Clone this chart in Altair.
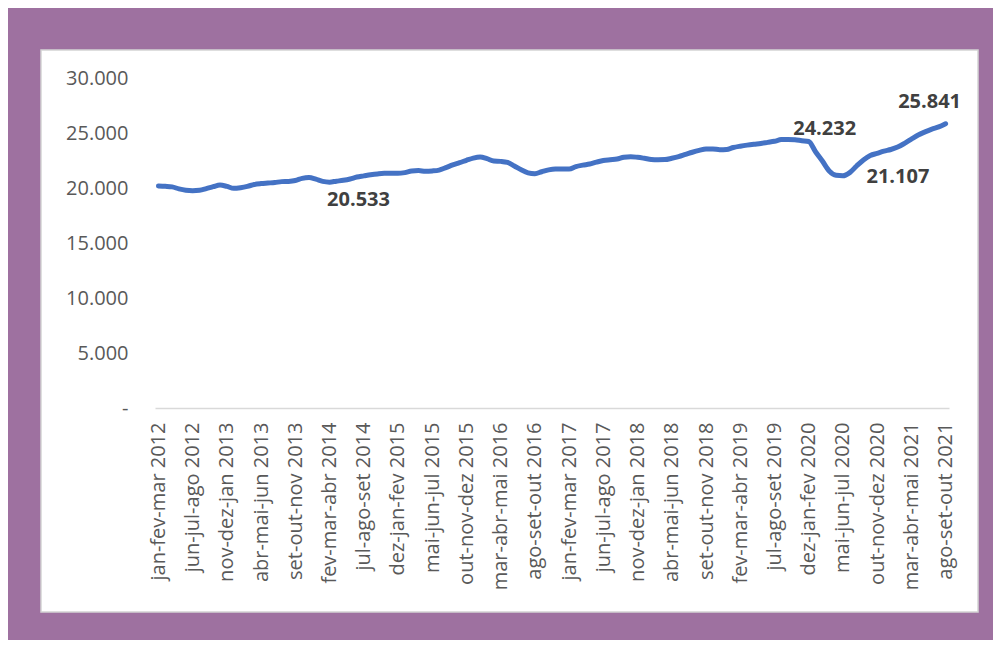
import altair as alt
import pandas as pd

MONTHS = ["jan", "fev", "mar", "abr", "mai", "jun", "jul", "ago", "set", "out", "nov", "dez"]
START_YEAR = 2012
START_MONTH = 2  # first moving quarter ends in March 2012

# Ocupados (mil pessoas), trimestres móveis
values = [
    20180, 20150, 20100, 19920, 19800, 19760, 19800, 19950, 20120, 20270,
    20150, 19970, 20030, 20150, 20320, 20400, 20450, 20500, 20580, 20600,
    20680, 20880, 20950, 20800, 20600, 20533, 20620, 20700, 20820, 21000,
    21100, 21200, 21280, 21330, 21330, 21330, 21400, 21550, 21580, 21520,
    21550, 21630, 21850, 22100, 22300, 22520, 22720, 22820, 22670, 22450,
    22420, 22320, 22000, 21650, 21380, 21300, 21480, 21650, 21730, 21720,
    21720, 21950, 22080, 22180, 22350, 22500, 22570, 22630, 22800, 22850,
    22790, 22700, 22600, 22570, 22580, 22700, 22850, 23050, 23250, 23420,
    23550, 23550, 23480, 23500, 23680, 23800, 23900, 23980, 24050, 24150,
    24250, 24400, 24420, 24380, 24300, 24232, 23300, 22450, 21550, 21150,
    21107, 21400, 22000, 22550, 22950, 23150, 23350, 23500, 23720, 24060,
    24450, 24820, 25100, 25350, 25550, 25841,
]

categories = []
for i in range(len(values)):
    m = START_MONTH + i
    yr = START_YEAR + m // 12
    e = m % 12
    categories.append(f"{MONTHS[(e - 2) % 12]}-{MONTHS[(e - 1) % 12]}-{MONTHS[e]} {yr}")

tick_labels = categories[::5]
y_ticks = [0, 5000, 10000, 15000, 20000, 25000, 30000]

labelled = ["fev-mar-abr 2014", "dez-jan-fev 2020", "mai-jun-jul 2020", "ago-set-out 2021"]
label_offsets = [(29, 18), (16, -12), (55, 1), (-16, -22)]

df = pd.DataFrame({
    "periodo": categories,
    "valor": values,
    "texto": [f"{v / 1000:.3f}" for v in values],
})

FONT = "Open Sans"
W, H = 794, 330

x_enc = alt.X(
    "periodo:N",
    sort=categories,
    scale=alt.Scale(type="point", padding=0.5),
    axis=alt.Axis(
        values=tick_labels, labelAngle=-90, labelFontSize=20, labelColor="#595959",
        labelFont=FONT, ticks=False, domainColor="#d9d9d9", domainWidth=1.5,
        labelPadding=14, title=None, grid=False, zindex=1, labelOverlap=False,
        labelLimit=400,
    ),
)
y_enc = alt.Y(
    "valor:Q",
    scale=alt.Scale(domain=[0, 30000], nice=False, zero=True),
    axis=alt.Axis(
        values=y_ticks,
        labelExpr="datum.value == 0 ? '-\u00a0\u00a0' : replace(format(datum.value, ','), ',', '.')",
        domain=False, ticks=False, grid=False, labelPadding=27, labelFontSize=20,
        labelColor="#595959", labelFont=FONT, title=None, zindex=1,
    ),
)

panel = alt.Chart(alt.Data(values=[{}])).mark_rect(
    fill="white", stroke="#d4d4d4", strokeWidth=1.5
).encode(
    x=alt.value(-114), x2=alt.value(823), y=alt.value(-28), y2=alt.value(534)
)

line = alt.Chart(df).mark_line(
    color="#4472C4", strokeWidth=5, interpolate="monotone", strokeCap="round", strokeJoin="round"
).encode(x=x_enc, y=y_enc)

texts = []
for cat, (dx, dy) in zip(labelled, label_offsets):
    texts.append(
        alt.Chart(df).transform_filter(alt.datum.periodo == cat).mark_text(
            align="center", baseline="middle", fontSize=20, fontWeight="bold",
            font=FONT, color="#404040", dx=dx, dy=dy,
        ).encode(x=x_enc, y=y_enc, text="texto:N")
    )

chart = alt.layer(panel, line, *texts).properties(
    width=W, height=H,
    padding={"left": 147, "top": 70, "right": 44, "bottom": 232},
    autosize=alt.AutoSizeParams(type="none"),
    background="#9E71A0",
).configure_view(stroke=None)

chart.save("out.html", embed_options={"renderer": "svg", "actions": False})
